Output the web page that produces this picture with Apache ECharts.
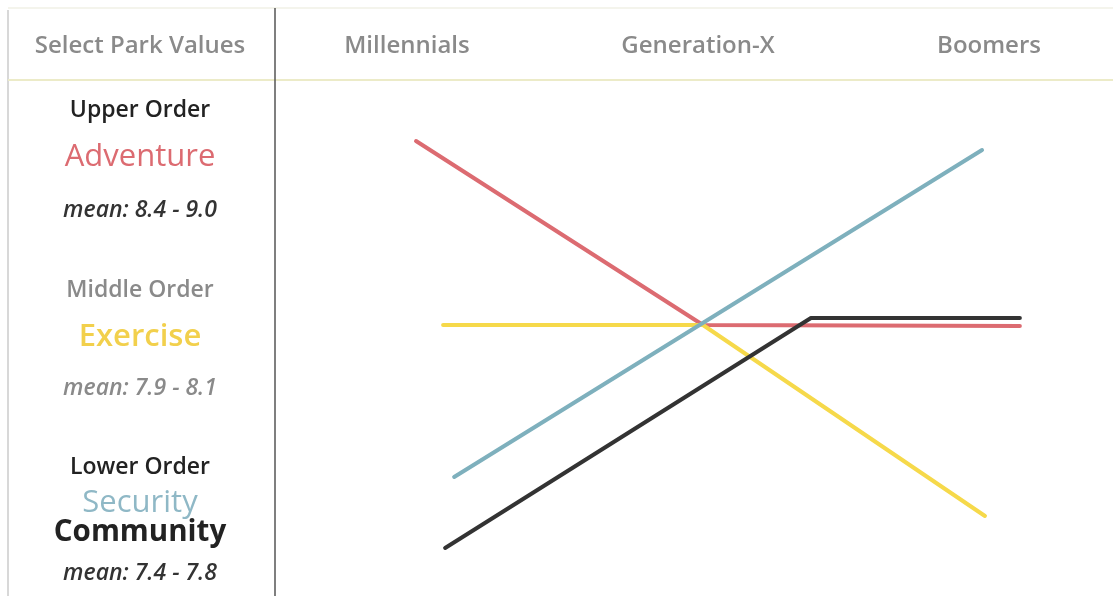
<!DOCTYPE html>
<html>
<head>
<meta charset="utf-8">
<script src="https://cdn.jsdelivr.net/npm/echarts@6/dist/echarts.min.js"></script>
<style>
html,body{margin:0;padding:0;background:#fff;}
#chart{width:1113px;height:596px;}
</style>
</head>
<body>
<div id="chart"></div>
<script>
// Column headers (generations)
const generations = ['Millennials', 'Generation-X', 'Boomers'];
const headerLeft = 'Select Park Values';

// Line values: x in generation-index units (0 = Millennials, 1 = Generation-X, 2 = Boomers),
// y in relative score units
const adventureX = [0.031, 1.017, 2.106];
const adventureY = [9.10, 5.42, 5.40];
const exerciseX = [0.124, 1.017, 1.986];
const exerciseY = [5.42, 5.42, 1.60];
const securityX = [0.162, 1.976];
const securityY = [2.38, 8.92];
const communityX = [0.131, 1.388, 2.106];
const communityY = [0.96, 5.56, 5.56];

// Left panel texts
const upperLabel = 'Upper Order';
const upperValues = ['Adventure'];
const upperMean = 'mean: 8.4 - 9.0';
const middleLabel = 'Middle Order';
const middleValues = ['Exercise'];
const middleMean = 'mean: 7.9 - 8.1';
const lowerLabel = 'Lower Order';
const lowerValues = ['Security', 'Community'];
const lowerMean = 'mean: 7.4 - 7.8';

const colors = {
  adventure: '#dc6b71',
  exercise: '#f6d94a',
  security: '#7eb0bd',
  community: '#333333'
};

function pairs(xs, ys) { return xs.map((x, i) => [x, ys[i]]); }

const FONT = '"Open Sans", "Noto Sans", sans-serif';
function txt(x, y, text, size, color, weight, style) {
  return {
    type: 'text', x: x, y: y, silent: true,
    style: {
      text: text, fill: color, align: 'center', verticalAlign: 'middle',
      font: (style || 'normal') + ' ' + (weight || 600) + ' ' + size + 'px ' + FONT
    }
  };
}

const chart = echarts.init(document.getElementById('chart'), null, {renderer: 'canvas'});
const lineStyle = (c) => ({ width: 4, color: c, cap: 'round', join: 'round' });

chart.setOption({
  backgroundColor: '#ffffff',
  animation: false,
  grid: [
    { left: 261.5, right: 0, top: 96, bottom: 0, containLabel: false },
    { left: 407, right: 124, top: 96, bottom: 0, containLabel: false }
  ],
  xAxis: [
    {
      type: 'category', data: generations, position: 'top', boundaryGap: false, gridIndex: 1,
      axisLine: { show: false }, axisTick: { show: false }, splitLine: { show: false },
      axisLabel: { margin: 50, verticalAlign: 'middle', color: '#8a8a8a', fontSize: 24, fontWeight: 600, fontFamily: FONT }
    },
    {
      type: 'value', min: -0.5, max: 2.426, show: false, gridIndex: 0
    }
  ],
  yAxis: [
    { type: 'value', min: 0, max: 10, show: false, gridIndex: 0 },
    { type: 'value', min: 0, max: 10, show: false, gridIndex: 1 }
  ],
  series: [
    { name: 'Adventure', type: 'line', xAxisIndex: 1, yAxisIndex: 0, data: pairs(adventureX, adventureY), symbol: 'none', lineStyle: lineStyle(colors.adventure), z: 2 },
    { name: 'Exercise', type: 'line', xAxisIndex: 1, yAxisIndex: 0, data: pairs(exerciseX, exerciseY), symbol: 'none', lineStyle: lineStyle(colors.exercise), z: 3 },
    { name: 'Security', type: 'line', xAxisIndex: 1, yAxisIndex: 0, data: pairs(securityX, securityY), symbol: 'none', lineStyle: lineStyle(colors.security), z: 4 },
    { name: 'Community', type: 'line', xAxisIndex: 1, yAxisIndex: 0, data: pairs(communityX, communityY), symbol: 'none', lineStyle: lineStyle(colors.community), z: 5 }
  ],
  graphic: [
    { type: 'line', silent: true, shape: { x1: 8, y1: 8, x2: 1113, y2: 8 }, style: { stroke: '#f0f0e6', lineWidth: 1.5 } },
    { type: 'line', silent: true, shape: { x1: 8, y1: 10, x2: 8, y2: 596 }, style: { stroke: '#d8d8d8', lineWidth: 2 } },
    { type: 'line', silent: true, shape: { x1: 8, y1: 80, x2: 1113, y2: 80 }, style: { stroke: '#ecebc8', lineWidth: 2 } },
    { type: 'line', silent: true, shape: { x1: 275, y1: 8, x2: 275, y2: 596 }, style: { stroke: '#555555', lineWidth: 1.5 } },
    txt(140, 46, headerLeft, 24, '#8a8a8a', 600),
    txt(140, 110, upperLabel, 23, '#222222', 600),
    txt(140, 157, upperValues[0], 31, colors.adventure, 500),
    txt(140, 210, upperMean, 23, '#333333', 600, 'italic'),
    txt(140, 290, middleLabel, 23, '#8a8a8a', 600),
    txt(140, 337, middleValues[0], 31, '#f2d04c', 600),
    txt(140, 388, middleMean, 23, '#8a8a8a', 600, 'italic'),
    txt(140, 467, lowerLabel, 23, '#222222', 600),
    txt(140, 503, lowerValues[0], 31, '#8fb8c6', 500),
    txt(140, 533, lowerValues[1], 29.5, '#222222', 700),
    txt(140, 573, lowerMean, 23, '#333333', 600, 'italic')
  ]
});
</script>
</body>
</html>
